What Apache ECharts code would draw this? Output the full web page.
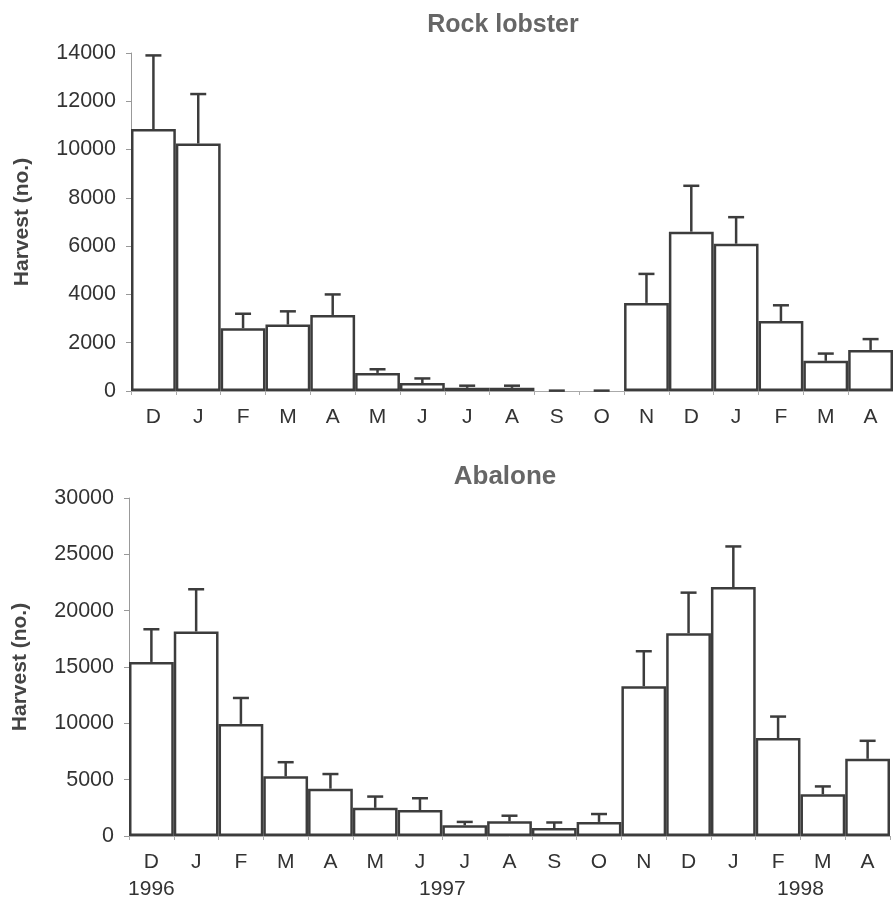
<!DOCTYPE html>
<html>
<head>
<meta charset="utf-8">
<script src="https://cdn.jsdelivr.net/npm/echarts@6/dist/echarts.min.js"></script>
<style>
html,body{margin:0;padding:0;background:#fff;}
#chart{width:893px;height:901px;}
</style>
</head>
<body>
<div id="chart"></div>
<script>
// ---- data ----
var months = ['D','J','F','M','A','M','J','J','A','S','O','N','D','J','F','M','A'];
var lobsterMean = [10850, 10250, 2600, 2750, 3150, 750, 330, 130, 130, 0, 0, 3650, 6600, 6100, 2900, 1250, 1700];
var lobsterErr  = [3050, 2050, 600, 550, 850, 150, 190, 90, 90, 15, 15, 1200, 1900, 1100, 650, 300, 450];
var abaloneMean = [15450, 18150, 9950, 5300, 4200, 2500, 2300, 950, 1300, 700, 1250, 13300, 18000, 22100, 8700, 3700, 6850];
var abaloneErr  = [2900, 3750, 2300, 1250, 1300, 1000, 1050, 300, 500, 500, 700, 3100, 3600, 3600, 1900, 700, 1600];
var lobsterTicks = [0, 2000, 4000, 6000, 8000, 10000, 12000, 14000];
var abaloneTicks = [0, 5000, 10000, 15000, 20000, 25000, 30000];
var yearLabels = [{pos: 0.5, text: '1996'}, {pos: 7, text: '1997'}, {pos: 15, text: '1998'}];

var TEXT = '#333';
var FONT = 'Liberation Sans, Arial, sans-serif';

function barData(vals) {
  return vals.map(function (v) {
    return v === 0 ? {value: v, itemStyle: {borderWidth: 0}} : v;
  });
}
function errData(means, errs) {
  return means.map(function (m, i) { return [i, m, errs[i]]; });
}
function renderErr(params, api) {
  var x = api.value(0), m = api.value(1), e = api.value(2);
  var p0 = api.coord([x, m]);
  var p1 = api.coord([x, m + e]);
  var st = {stroke: '#3c3c3c', lineWidth: 2.5};
  return {
    type: 'group',
    children: [
      {type: 'line', shape: {x1: p0[0], y1: p0[1], x2: p1[0], y2: p1[1]}, style: st},
      {type: 'line', shape: {x1: p1[0] - 8, y1: p1[1], x2: p1[0] + 8, y2: p1[1]}, style: st}
    ]
  };
}
function yAxisCfg(gridIndex, ticks) {
  return {
    type: 'value', gridIndex: gridIndex,
    min: ticks[0], max: ticks[ticks.length - 1], interval: ticks[1] - ticks[0],
    name: 'Harvest (no.)', nameLocation: 'middle', nameGap: 98, nameRotate: 90,
    nameTextStyle: {color: '#444', fontSize: 21, fontWeight: 'bold', fontFamily: FONT},
    axisLine: {show: true, lineStyle: {color: '#999', width: 1}},
    axisTick: {show: true, length: 5, lineStyle: {color: '#999'}},
    axisLabel: {color: TEXT, fontSize: 21.5, fontFamily: FONT, margin: 15,
      formatter: function (v) { return String(v); }},
    splitLine: {show: false}
  };
}
function xAxisCfg(gridIndex) {
  return {
    type: 'category', gridIndex: gridIndex, data: months,
    axisLine: {show: true, lineStyle: {color: '#aaa', width: 1}},
    axisTick: {show: true, length: 4, lineStyle: {color: '#aaa'}},
    axisLabel: {color: TEXT, fontSize: 21, fontFamily: FONT, margin: 16},
    splitLine: {show: false}
  };
}
var barStyle = {color: '#fff', borderColor: '#3c3c3c', borderWidth: 2.5};

var option = {
  animation: false,
  backgroundColor: '#fff',
  title: [
    {text: 'Rock lobster', left: 498, top: 8, textAlign: 'center',
     textStyle: {color: '#666', fontSize: 25, fontWeight: 'bold', fontFamily: FONT}},
    {text: 'Abalone', left: 500, top: 459, textAlign: 'center',
     textStyle: {color: '#666', fontSize: 26, fontWeight: 'bold', fontFamily: FONT}}
  ],
  grid: [
    {left: 131, top: 53, width: 768, height: 338},
    {left: 129, top: 498, width: 762, height: 338}
  ],
  xAxis: [
    xAxisCfg(0),
    xAxisCfg(1),
    {
      type: 'value', gridIndex: 1, position: 'bottom', min: 0, max: 17, interval: 0.5,
      axisLine: {show: false}, axisTick: {show: false}, splitLine: {show: false},
      axisLabel: {
        show: true, color: TEXT, fontSize: 21, fontFamily: FONT, margin: 43,
        showMinLabel: true, showMaxLabel: true,
        formatter: function (v) {
          for (var i = 0; i < yearLabels.length; i++) {
            if (Math.abs(yearLabels[i].pos - v) < 1e-6) return yearLabels[i].text;
          }
          return '';
        }
      }
    }
  ],
  yAxis: [yAxisCfg(0, lobsterTicks), yAxisCfg(1, abaloneTicks)],
  series: [
    {type: 'bar', xAxisIndex: 0, yAxisIndex: 0, data: barData(lobsterMean),
     barCategoryGap: '0%', itemStyle: barStyle, z: 2},
    {type: 'custom', xAxisIndex: 0, yAxisIndex: 0, data: errData(lobsterMean, lobsterErr),
     renderItem: renderErr, z: 3, clip: false},
    {type: 'bar', xAxisIndex: 1, yAxisIndex: 1, data: barData(abaloneMean),
     barCategoryGap: '0%', itemStyle: barStyle, z: 2},
    {type: 'custom', xAxisIndex: 1, yAxisIndex: 1, data: errData(abaloneMean, abaloneErr),
     renderItem: renderErr, z: 3, clip: false}
  ]
};
var chart = echarts.init(document.getElementById('chart'), null, {renderer: 'canvas'});
chart.setOption(option);
</script>
</body>
</html>
